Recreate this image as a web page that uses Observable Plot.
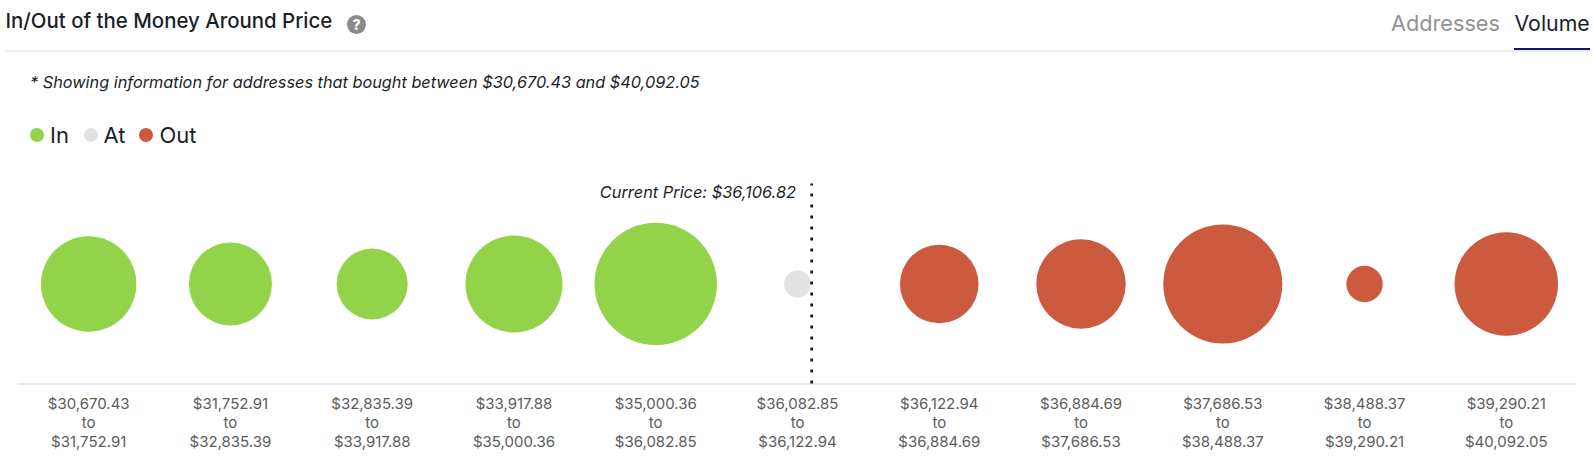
<!DOCTYPE html>
<html><head><meta charset="utf-8">
<script src="https://cdn.jsdelivr.net/npm/d3@7"></script>
<script src="https://cdn.jsdelivr.net/npm/@observablehq/plot@0.6"></script>
<style>
html,body{margin:0;padding:0;background:#fff;width:1594px;height:462px;overflow:hidden;font-family:Inter,sans-serif;}
.a{position:absolute;white-space:nowrap;line-height:1;}
#chart{position:absolute;left:0;top:170px;}
.dot{position:absolute;border-radius:50%;width:14px;height:14px;top:127.5px;}
</style></head><body>
<div class="a" style="left:5.5px;top:11px;font-size:20.4px;font-weight:500;color:#1b1f27">In/Out of the Money Around Price</div>
<div class="a" style="left:347px;top:14.5px;width:19px;height:19px;border-radius:50%;background:#8a8a8a;color:#fff;font-size:14px;font-weight:800;text-align:center;line-height:19px">?</div>
<div class="a" style="left:1391px;top:13px;font-size:21.7px;color:#929292">Addresses</div>
<div class="a" style="left:1514.5px;top:13px;font-size:21.3px;color:#1b1f27">Volume</div>
<div class="a" style="left:5px;top:50px;width:1585px;height:1.5px;background:#e8ebf0"></div>
<div class="a" style="left:1514px;top:48px;width:76px;height:2px;background:#14146e"></div>
<div class="a" style="left:30px;top:74px;font-size:16.3px;font-style:italic;color:#1b1f27">* Showing information for addresses that bought between $30,670.43 and $40,092.05</div>
<div class="dot" style="left:30px;background:#93d34a"></div>
<div class="a" style="left:50px;top:124px;font-size:22px;color:#1b1f27">In</div>
<div class="dot" style="left:83.5px;background:#e2e2e2"></div>
<div class="a" style="left:103.5px;top:124px;font-size:22px;color:#1b1f27">At</div>
<div class="dot" style="left:139px;background:#cb5a3e"></div>
<div class="a" style="left:159.5px;top:124px;font-size:22px;color:#1b1f27">Out</div>
<div id="chart"></div>
<script>
const lows  = ["$30,670.43","$31,752.91","$32,835.39","$33,917.88","$35,000.36","$36,082.85","$36,122.94","$36,884.69","$37,686.53","$38,488.37","$39,290.21"];
const highs = ["$31,752.91","$32,835.39","$33,917.88","$35,000.36","$36,082.85","$36,122.94","$36,884.69","$37,686.53","$38,488.37","$39,290.21","$40,092.05"];
const status = ["In","In","In","In","In","At","Out","Out","Out","Out","Out"];
const volumes = [2275,1722,1260,2352,3745,182,1544,1998,3540,331,2673];
const currentPrice = "Current Price: $36,106.82";
const currentPricePosition = 5.1;
const rows = lows.map((low,i)=>({i,low,high:highs[i],status:status[i],volume:volumes[i]}));
const plot = Plot.plot({
  width:1594,height:292,marginTop:13.5,marginBottom:78.5,marginLeft:17.3,marginRight:17.3,
  style:{fontFamily:"Inter, sans-serif",background:"transparent",overflow:"visible"},
  x:{domain:[-0.5,10.5],axis:null},
  y:{domain:[0,1],axis:null},
  r:{type:"sqrt",domain:[0,3745],range:[0,61.2]},
  color:{domain:["In","At","Out"],range:["#93d34a","#e2e2e2","#cb5a3e"]},
  marks:[
    Plot.ruleY([0],{stroke:"#dcdff2",strokeWidth:1.7}),
    Plot.dot(rows,{x:"i",y:()=>0.5,r:"volume",fill:"status",stroke:null}),
    Plot.ruleX([currentPricePosition],{y1:0,y2:1,stroke:"#111",strokeWidth:2.6,strokeDasharray:"3 8"}),
    Plot.text([currentPrice],{x:currentPricePosition,y:1,textAnchor:"end",dx:-15.7,dy:8.5,fontSize:16.35,fontStyle:"italic",fill:"#1b1f27"}),
    Plot.text(rows,{x:"i",y:0,text:d=>d.low+"\nto\n"+d.high,lineAnchor:"top",dy:11,fontSize:15,lineHeight:1.29,fill:"#5c5c5c"})
  ]
});
document.getElementById("chart").append(plot);
</script>
</body></html>
